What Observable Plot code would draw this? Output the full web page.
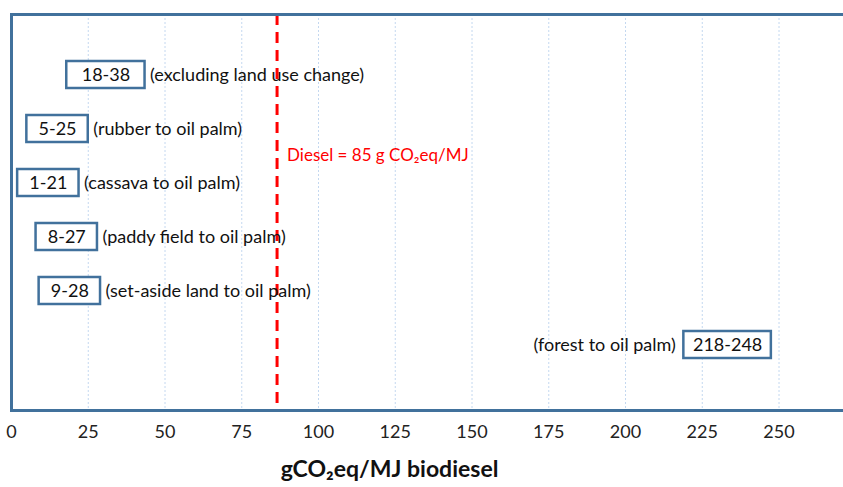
<!DOCTYPE html>
<html>
<head>
<meta charset="utf-8">
<script src="https://cdn.jsdelivr.net/npm/d3@7"></script>
<script src="https://cdn.jsdelivr.net/npm/@observablehq/plot@0.6"></script>
<style>
  html, body { margin: 0; padding: 0; background: #fff; }
  #chart svg { display: block; }
</style>
</head>
<body>
<div id="chart"></div>
<script>
// Data
const categories = ["excluding", "rubber", "cassava", "paddy", "setaside", "forest"];
const rangeLabels = ["18-38", "5-25", "1-21", "8-27", "9-28", "218-248"];
const boxLo = [18, 5, 2, 8, 9, 219];
const boxHi = [43.5, 25, 22, 28, 29, 247.5];
const descriptions = [
  "(excluding land use change)",
  "(rubber to oil palm)",
  "(cassava to oil palm)",
  "(paddy field to oil palm)",
  "(set-aside land to oil palm)",
  "(forest to oil palm)"
];
const xTicks = [0, 25, 50, 75, 100, 125, 150, 175, 200, 225, 250];
const dieselValue = 86.5;
const dieselLabel = "Diesel = 85 g CO₂eq/MJ";
const axisTitle = "gCO₂eq/MJ biodiesel";

const rows = categories.map((c, i) => ({
  cat: c, label: rangeLabels[i], lo: boxLo[i], hi: boxHi[i], desc: descriptions[i]
}));
const rightRows = rows.filter(d => d.lo < 100);
const leftRows = rows.filter(d => d.lo >= 100);

const blue = "#41719c";
const font = "Lato, 'Open Sans', sans-serif";

const chart = Plot.plot({
  width: 843,
  height: 487,
  marginLeft: 11,
  marginRight: 0,
  marginTop: 14,
  marginBottom: 77,
  style: { fontFamily: font, fontSize: "18px", color: "#222", background: "#fff" },
  x: { domain: [0, 271], ticks: xTicks, tickSize: 0, tickPadding: 15, tickFormat: d3.format("d"), label: null },
  y: { type: "band", domain: categories, paddingInner: 0.5, paddingOuter: 0.89, align: 0.476, axis: null },
  marks: [
    Plot.ruleX(xTicks.slice(1), { stroke: "#c4d8f0", strokeWidth: 1, strokeDasharray: "2,2" }),
    Plot.ruleX([dieselValue], { stroke: "#ff0000", strokeWidth: 3, strokeDasharray: "11,7" }),
    Plot.frame({ anchor: "top", stroke: blue, strokeWidth: 3 }),
    Plot.frame({ anchor: "bottom", stroke: blue, strokeWidth: 3 }),
    Plot.frame({ anchor: "left", stroke: blue, strokeWidth: 3 }),
    Plot.barX(rows, { x1: "lo", x2: "hi", y: "cat", fill: "white", stroke: blue, strokeWidth: 2.5 }),
    Plot.text(rows, { x: d => (d.lo + d.hi) / 2, y: "cat", text: "label", fill: "#111", fontSize: 18 }),
    Plot.text(rightRows, { x: "hi", y: "cat", text: "desc", textAnchor: "start", dx: 5, fill: "#111", fontSize: 18 }),
    Plot.text(leftRows, { x: "lo", y: "cat", text: "desc", textAnchor: "end", dx: -8, fill: "#111", fontSize: 18 }),
    Plot.text([dieselLabel], { x: dieselValue, y: () => "rubber", text: d => d, textAnchor: "start", dx: 10, dy: 27, fill: "#ff0000", fontSize: 17 }),
    Plot.text([axisTitle], { frameAnchor: "bottom", text: d => d, dy: 66, dx: -38, fontWeight: "bold", fontSize: 23, fill: "#111" })
  ]
});
document.getElementById("chart").append(chart);
</script>
</body>
</html>
